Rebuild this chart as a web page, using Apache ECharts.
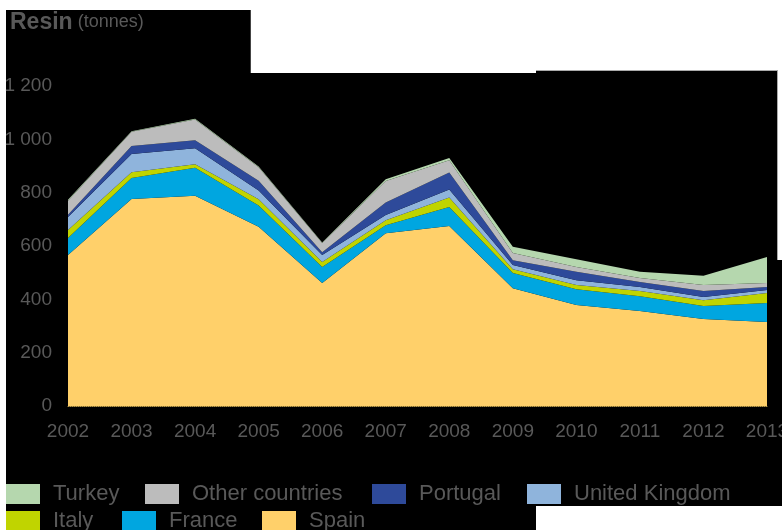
<!DOCTYPE html>
<html><head><meta charset="utf-8">
<script src="https://cdn.jsdelivr.net/npm/echarts@6/dist/echarts.min.js"></script>
<style>html,body{margin:0;padding:0;background:#000;}#c{width:782px;height:530px;}</style>
</head><body><div id="c"></div>
<script>
const years = ['2002','2003','2004','2005','2006','2007','2008','2009','2010','2011','2012','2013'];
const spain   = [566, 776, 788, 672, 461, 648, 675, 442, 379, 356, 326, 315];
const france  = [64, 79, 105, 80, 60, 30, 71, 57, 59, 56, 49, 71];
const italy   = [30, 22, 14, 23, 19, 19, 36, 14, 16, 19, 22, 38];
const uk      = [49, 68, 60, 33, 26, 19, 30, 16, 18, 15, 12, 11];
const portugal= [8, 30, 30, 37, 11, 47, 64, 18, 31, 19, 22, 11];
const other   = [53, 53, 77, 50, 34, 81, 46, 27, 18, 15, 23, 15];
const turkey  = [3, 2, 3, 3, 2, 6, 8, 23, 29, 23, 34, 98];
const yTicks = [0, 200, 400, 600, 800, 1000, 1200];

const names = ['Spain','France','Italy','United Kingdom','Portugal','Other countries','Turkey'];
const datas = [spain, france, italy, uk, portugal, other, turkey];
const colors = ['#ffd06a','#00a6e0','#c0d400','#8fb4dc','#2e4a9a','#bcbcbc','#b5d7ae'];

const series = names.map((n,i)=>({
  name:n, type:'line', stack:'total', data:datas[i], symbol:'none',
  lineStyle:{width:0}, areaStyle:{color:colors[i], opacity:1}, itemStyle:{color:colors[i]},
  z: 2
}));

const legendPos = [
  ['Turkey',6,483],['Other countries',145,483],['Portugal',372,483],['United Kingdom',527,483],
  ['Italy',6,510],['France',122,510],['Spain',262,510]
];
const legends = legendPos.map(p=>({
  data:[p[0]], left:p[1], top:p[2], itemWidth:34, itemHeight:20, icon:'rect',
  padding:0, textStyle:{color:'#595959', fontSize:22, fontFamily:'Liberation Sans', padding:[0,0,0,8]}
}));

const chart = echarts.init(document.getElementById('c'), null, {renderer:'canvas'});
chart.setOption({
  backgroundColor:'#000',
  animation:false,
  title:{
    text:'{b|Resin} {n|(tonnes)}', left:5, top:6,
    textStyle:{rich:{
      b:{fontSize:23, fontWeight:'bold', color:'#595959', fontFamily:'Liberation Sans'},
      n:{fontSize:18, fontWeight:'normal', color:'#595959', fontFamily:'Liberation Sans'}
    }}
  },
  graphic:[
    {type:'rect', shape:{x:0,y:0,width:782,height:10}, style:{fill:'#fff'}, z:-10},
    {type:'rect', shape:{x:0,y:0,width:6,height:530}, style:{fill:'#fff'}, z:-10},
    {type:'rect', shape:{x:250,y:0,width:286,height:73}, style:{fill:'#fff'}, z:-10},
    {type:'rect', shape:{x:536,y:0,width:246,height:70}, style:{fill:'#fff'}, z:-10},
    {type:'rect', shape:{x:777,y:70,width:5,height:190}, style:{fill:'#fff'}, z:-10},
    {type:'rect', shape:{x:536,y:506,width:246,height:24}, style:{fill:'#fff'}, z:-10},
    {type:'line', shape:{x1:536,y1:70.5,x2:777,y2:70.5}, style:{stroke:'#aaa',lineWidth:1}, z:-9},
    {type:'line', shape:{x1:777.5,y1:70,x2:777.5,y2:260}, style:{stroke:'#aaa',lineWidth:1}, z:-9},
    {type:'line', shape:{x1:250.5,y1:10,x2:250.5,y2:73}, style:{stroke:'#444',lineWidth:1}, z:-9}
  ],
  legend:legends,
  grid:{left:68, right:15, top:86, bottom:124, containLabel:false, outerBoundsMode:'none'},
  xAxis:{
    type:'category', data:years, boundaryGap:false,
    axisLine:{show:true, lineStyle:{color:'#b89a4a', type:'dotted', width:1}},
    axisTick:{show:false},
    axisLabel:{color:'#595959', fontSize:19, fontFamily:'Liberation Sans', margin:16}
  },
  yAxis:{
    type:'value', min:yTicks[0], max:yTicks[yTicks.length-1], interval:200,
    splitLine:{show:false}, axisLine:{show:false}, axisTick:{show:false},
    axisLabel:{color:'#595959', fontSize:19, fontFamily:'Liberation Sans', margin:16,
      formatter:v=>String(v).replace(/\B(?=(\d{3})+(?!\d))/g,' ')}
  },
  series:series
});
</script></body></html>
